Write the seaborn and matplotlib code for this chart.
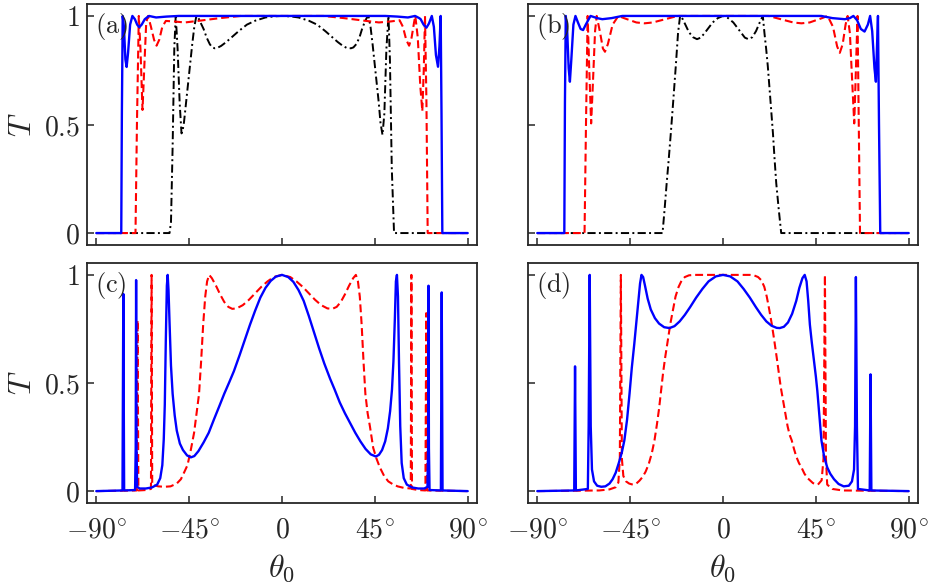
import matplotlib
matplotlib.use("Agg")
import matplotlib.pyplot as plt
import seaborn as sns
import pandas as pd

# ---- panel (a) ----
a_blue_x = [-90, -77.9, -77.6, -77.2, -76.6, -75.9, -75.3, -74.6, -73.6, -72.5, -71.3, -70.2, -69.2, -68.0, -66.5,
            -64.5, -61, -56, -50, 0, 50, 56, 61, 64.5, 66.5, 67.2, 68.6, 70.0, 71.2, 72.6, 73.6, 74.6, 75.6, 76.3,
            76.9, 77.3, 77.7, 90]
a_blue_y = [0, 0, 0.55, 1.0, 0.95, 0.80, 0.765, 0.83, 0.96, 1.0, 0.985, 0.96, 0.948, 0.96, 0.985,
            1.0, 0.993, 0.997, 1.0, 1.0, 1.0, 0.997, 0.993, 1.0, 0.99, 0.985, 0.96, 0.946, 0.965, 1.0, 0.95, 0.82,
            0.766, 0.86, 1.0, 0.55, 0, 0]

a_red_x = [-90, -71.0, -70.3, -69.4, -68.6, -67.6, -66.8, -65.8, -64.9, -63.5, -62, -60.8, -59.5, -58, -56.3, -53,
           -47, -40, -30, -20, 0, 20, 30, 40, 47, 53, 57, 58.6, 60.2, 61.6, 62.8, 64.0, 64.6, 65.8, 67.0, 68.0,
           68.7, 69.3, 70.0, 70.6, 90]
a_red_y = [0, 0, 0.5, 1.0, 0.85, 0.567, 0.75, 0.97, 1.0, 0.95, 0.89, 0.863, 0.89, 0.95, 0.977, 0.975,
           0.97, 0.978, 0.99, 1.0, 1.0, 1.0, 0.99, 0.978, 0.97, 0.975, 0.98, 0.95, 0.89, 0.863, 0.9, 0.97,
           1.0, 0.9, 0.68, 0.562, 0.75, 1.0, 0.6, 0, 0]

a_black_x = [-90, -54.5, -53.8, -53, -52.2, -51.5, -50.6, -49.6, -48.7, -48.2, -47.5, -46.5, -45.5, -44.5, -43.5,
             -42.5, -41.5, -40.5, -39.5, -38, -36.5, -35, -33.8, -32.6, -31.3, -29.5, -27, -24, -21, -17, -13, -8,
             -4, 0, 4, 8, 13, 17, 21, 24, 27, 29.5, 31.3, 33.4, 34.6, 36, 37.5, 38.8, 40, 41, 41.9, 42.9, 43.9,
             44.9, 45.9, 46.9, 47.7, 48.7, 49.6, 50.6, 51.6, 52.3, 53.2, 54.3, 90]
a_black_y = [0, 0, 0.05, 0.4, 0.85, 1.0, 0.85, 0.6, 0.459, 0.47, 0.51, 0.6, 0.69, 0.78, 0.87,
             0.95, 1.0, 0.99, 0.97, 0.94, 0.9, 0.87, 0.855, 0.851, 0.853, 0.862, 0.88, 0.905, 0.93, 0.96, 0.978,
             0.993, 0.998, 1.0, 0.998, 0.993, 0.978, 0.96, 0.93, 0.905, 0.88, 0.862, 0.853, 0.851, 0.855, 0.87,
             0.9, 0.94, 0.97, 0.99, 1.0, 0.95, 0.87, 0.78, 0.69, 0.6, 0.51, 0.452, 0.55, 0.85, 1.0, 0.8, 0.3, 0,
             0]

# ---- panel (b) ----
b_blue_x = [-90, -76.9, -76.6, -76.2, -75.5, -74.8, -74.2, -73.5, -72.5, -71.5, -70.3, -69.0, -67.8, -66.5, -64.2,
            -61, -58.5, -54, -48.8, 0, 47.6, 53, 59, 61.5, 63.2, 65, 66.8, 68.6, 70.2, 71.3, 72.3, 73.4, 74.1,
            74.6, 75.1, 75.6, 76.2, 90]
b_blue_y = [0, 0, 0.6, 1.0, 0.93, 0.76, 0.697, 0.8, 0.96, 1.0, 0.97, 0.94, 0.935, 0.96, 1.0,
            0.99, 0.985, 0.99, 1.0, 1.0, 1.0, 0.99, 0.985, 0.99, 1.0, 0.98, 0.94, 0.928, 0.96, 1.0, 0.93, 0.76,
            0.697, 0.85, 1.0, 0.5, 0, 0]

b_red_x = [-90, -67.1, -66.4, -65.6, -64.8, -63.9, -63.0, -62, -61.2, -59.5, -58.2, -57.2, -55.8, -53.5, -50.7, -48,
           -45, -42, -38, -34, -30, -26, -22, 22, 26, 30, 34, 38, 42, 45, 48, 50.7, 53.3, 55.3, 56.6, 58, 59.4,
           60.4, 61.5, 62.6, 63.6, 64.4, 65.2, 65.8, 66.4, 90]
b_red_y = [0, 0, 0.5, 1.0, 0.75, 0.505, 0.7, 0.93, 1.0, 0.92, 0.85, 0.835, 0.87, 0.96, 1.0, 0.99,
           0.98, 0.97, 0.966, 0.97, 0.98, 0.99, 1.0, 1.0, 0.99, 0.98, 0.97, 0.966, 0.97, 0.98, 0.99, 1.0, 0.95,
           0.86, 0.83, 0.87, 0.96, 1.0, 0.92, 0.7, 0.505, 0.75, 1.0, 0.5, 0, 0]

b_black_x = [-90, -29.3, -28.3, -27.3, -26.3, -25.3, -24.1, -22.9, -21.8, -20.8, -19.5, -18, -16.5, -14.5, -12.6,
             -10.8, -9, -7, -5, -2.5, 0, 2.5, 5, 7, 9, 10.6, 12.3, 14.2, 16, 17.8, 19.3, 20.1, 20.9, 21.7, 23,
             24.2, 25, 25.8, 27, 28.2, 90]
b_black_y = [0, 0, 0.11, 0.229, 0.34, 0.459, 0.61, 0.766, 0.92, 1.0, 0.985, 0.955, 0.925, 0.902, 0.893,
             0.9, 0.92, 0.945, 0.97, 0.99, 1.0, 0.99, 0.97, 0.945, 0.92, 0.9, 0.893, 0.902, 0.93, 0.97, 1.0, 0.92,
             0.85, 0.77, 0.61, 0.46, 0.34, 0.23, 0.11, 0, 0]

# ---- panel (c) ----
c_blue_x = [-90, -77.3, -76.9, -76.5, -71.2, -70.9, -70.7, -70.5, -70.2, -69, -66, -63, -60.5, -59, -58, -57.3,
            -56.8, -56.3, -55.8, -55.4, -55.0, -54.5, -53.8, -53, -52, -51, -49.5, -48, -46, -44.2, -42.5, -40.5,
            -38, -35.5, -33, -30.5, -28, -25.5, -23.3, -20.5, -18, -15.5, -13, -10.5, -8, -5.5, -3, 0,
            3, 5.5, 8, 10.5, 13, 15.5, 18, 20.5, 23.3, 25.5, 28, 30.5, 33, 35.5, 38, 40.5, 43, 45.5, 47,
            48.5, 50, 51.3, 52.4, 53.3, 54, 54.7, 55.2, 55.7, 56.2, 56.7, 57.3, 58, 59, 60.5, 63, 66, 69, 70.5,
            70.8, 71.0, 71.2, 71.5, 77.0, 77.4, 77.8, 90]
c_blue_y = [0, 0.003, 0.912, 0.003, 0.005, 0.2, 0.976, 0.2, 0.02, 0.012, 0.012, 0.017, 0.03, 0.06, 0.12, 0.24,
            0.4, 0.7, 0.95, 1.0, 0.93, 0.78, 0.58, 0.45, 0.35, 0.28, 0.22, 0.19, 0.165, 0.156, 0.162, 0.185,
            0.225, 0.27, 0.331, 0.39, 0.45, 0.505, 0.555, 0.63, 0.70, 0.77, 0.835, 0.895, 0.94, 0.972, 0.992, 1.0,
            0.99, 0.968, 0.93, 0.88, 0.81, 0.735, 0.66, 0.59, 0.52, 0.47, 0.41, 0.36, 0.315, 0.27, 0.23, 0.195,
            0.17, 0.16, 0.168, 0.19, 0.23, 0.29, 0.37, 0.47, 0.6, 0.8, 0.97, 1.0, 0.9, 0.6, 0.3, 0.13, 0.06, 0.03,
            0.017, 0.012, 0.012, 0.02, 0.2, 0.95, 0.2, 0.005, 0.003, 0.919, 0.003, 0]

c_red_x = [-90, -70.4, -70.0, -69.6, -66, -63.5, -63.2, -62.9, -60, -57, -54, -51, -49, -47.5, -45.8, -44.2, -42.6,
           -41.4, -40.2, -39.2, -38.2, -37.2, -36.3, -35.3, -34, -32, -30, -28, -26, -24.1, -22, -19, -16, -13,
           -10, -7, -4, 0, 4, 7, 10, 13, 16, 19, 22, 24.4, 26.5, 28.5, 30.5, 32.5, 34.5, 35.8, 36.8, 37.7, 38.6,
           39.5, 40.4, 41.5, 42.6, 44.2, 45.8, 47.4, 49.5, 51.5, 53.5, 56, 59, 62.4, 62.7, 63.0, 66, 69.5, 69.9,
           70.3, 90]
c_red_y = [0, 0.003, 0.79, 0.003, 0.005, 0.01, 1.0, 0.03, 0.022, 0.02, 0.022, 0.035, 0.055, 0.085, 0.12, 0.19,
           0.27, 0.36, 0.45, 0.6, 0.77, 0.9, 0.97, 1.0, 0.985, 0.95, 0.91, 0.875, 0.852, 0.843, 0.845, 0.86,
           0.885, 0.915, 0.945, 0.97, 0.99, 1.0, 0.99, 0.97, 0.945, 0.915, 0.885, 0.86, 0.845, 0.843, 0.852,
           0.875, 0.91, 0.95, 0.985, 1.0, 0.97, 0.9, 0.77, 0.6, 0.45, 0.36, 0.3, 0.2, 0.15, 0.11, 0.07, 0.045,
           0.033, 0.022, 0.015, 0.012, 1.0, 0.01, 0.005, 0.003, 0.823, 0.003, 0]

# ---- panel (d) ----
d_blue_x = [-90, -72.1, -71.7, -71.3, -65.5, -65.1, -64.6, -64.1, -63.5, -62.5, -61, -59, -57, -55, -53.5, -52,
            -50.5, -49, -47.8, -46.5, -45.3, -44.2, -43, -42, -41, -40.2, -39.5, -38.7, -37.8, -36.5, -35, -33,
            -31, -28.5, -25.9, -23.5, -21, -18.5, -16, -13, -10, -7, -3.5, 0, 3.5, 7, 10, 13, 16, 18.5, 21, 23.5,
            26, 27.5, 29.5, 31.5, 33.5, 35.5, 37, 38.5, 39.6, 40.5, 41.3, 42.1, 43, 44, 45, 45.7, 46.7, 47.7, 49,
            50.5, 52, 53.8, 56, 58.5, 61, 62.5, 63.5, 64.0, 64.4, 64.9, 65.4, 71.1, 71.5, 71.9, 90]
d_blue_y = [0, 0.003, 0.577, 0.003, 0.01, 0.3, 1.0, 0.3, 0.1, 0.045, 0.025, 0.02, 0.022, 0.035, 0.055, 0.085,
            0.13, 0.18, 0.235, 0.33, 0.45, 0.57, 0.68, 0.78, 0.88, 0.96, 1.0, 0.99, 0.95, 0.89, 0.84, 0.8,
            0.775, 0.758, 0.754, 0.763, 0.785, 0.815, 0.85, 0.895, 0.935, 0.97, 0.993, 1.0, 0.993, 0.97, 0.935,
            0.895, 0.85, 0.815, 0.785, 0.765, 0.755, 0.754, 0.76, 0.78, 0.82, 0.88, 0.94, 0.985, 1.0, 0.97, 0.88,
            0.77, 0.69, 0.61, 0.53, 0.465, 0.35, 0.235, 0.16, 0.11, 0.08, 0.055, 0.033, 0.022, 0.025, 0.045, 0.1,
            0.3, 0.99, 0.3, 0.01, 0.003, 0.54, 0.003, 0]

d_red_x = [-90, -60, -55, -52, -50.7, -50, -49.5, -49.0, -48.3, -47, -45.5, -43.7, -42, -40.5, -39, -37.5, -36,
           -34.5, -33.2, -32, -31, -30, -29, -28, -26.7, -25.5, -24.2, -23, -21.5, -20, -18.5, -16.5, -14, 13,
           15, 17, 18.6, 20, 21.2, 22.4, 23.6, 24.8, 26, 27, 28, 29.1, 30.2, 31.3, 32.3, 33.3, 34.4, 35.5, 36.8,
           38, 39.5, 41, 43.6, 46, 47.8, 48.7, 49.4, 49.9, 50.5, 53, 58, 90]
d_red_y = [0, 0.003, 0.008, 0.018, 0.04, 0.15, 1.0, 0.15, 0.07, 0.045, 0.035, 0.03, 0.035, 0.048, 0.065, 0.09,
           0.125, 0.175, 0.235, 0.31, 0.38, 0.465, 0.55, 0.62, 0.7, 0.775, 0.84, 0.9, 0.945, 0.975, 0.99, 0.998,
           1.0, 1.0, 0.998, 0.99, 0.975, 0.945, 0.9, 0.84, 0.775, 0.7, 0.62, 0.55, 0.48, 0.42, 0.36, 0.3, 0.26,
           0.235, 0.195, 0.16, 0.13, 0.11, 0.08, 0.06, 0.037, 0.03, 0.05, 0.15, 1.0, 0.15, 0.03, 0.01, 0.003, 0]

panels = {
    "(a)": [(a_black_x, a_black_y, "black"), (a_red_x, a_red_y, "red"), (a_blue_x, a_blue_y, "blue")],
    "(b)": [(b_black_x, b_black_y, "black"), (b_red_x, b_red_y, "red"), (b_blue_x, b_blue_y, "blue")],
    "(c)": [(c_red_x, c_red_y, "red"), (c_blue_x, c_blue_y, "blue")],
    "(d)": [(d_red_x, d_red_y, "red"), (d_blue_x, d_blue_y, "blue")],
}

x_ticks = [-90, -45, 0, 45, 90]
x_labels = [r"$-90^{\circ}$", r"$-45^{\circ}$", r"$0$", r"$45^{\circ}$", r"$90^{\circ}$"]
y_ticks = [0, 0.5, 1]
y_labels = [r"$0$", r"$0.5$", r"$1$"]

sns.set_theme(style="ticks")
plt.rcParams["font.family"] = ["DejaVu Serif"]
plt.rcParams["mathtext.fontset"] = "cm"

fig = plt.figure(figsize=(9.3, 5.84), dpi=100)
positions = {
    "(a)": [87 / 930, 1 - 245 / 584, 390 / 930, 241 / 584],
    "(b)": [528 / 930, 1 - 245 / 584, 390 / 930, 241 / 584],
    "(c)": [87 / 930, 1 - 503 / 584, 390 / 930, 240 / 584],
    "(d)": [528 / 930, 1 - 503 / 584, 390 / 930, 240 / 584],
}

# colour, dash pattern (in line widths), line width
styles = {"blue": ("#0000ff", None, 1.7),
          "red": ("#ff0000", (3.8, 1.9), 1.5),
          "black": ("#000000", (4.2, 1.7, 1.0, 1.7), 1.4)}

for name, curves in panels.items():
    ax = fig.add_axes(positions[name])
    for xs, ys, kind in curves:
        color, dash, lw = styles[kind]
        df = pd.DataFrame({"theta": xs, "T": ys})
        sns.lineplot(data=df, x="theta", y="T", estimator=None, sort=False,
                     color=color, lw=lw, ax=ax)
        if dash is not None:
            ax.lines[-1].set_dashes(dash)
    ax.set_xlim(-94.5, 94.5)
    ax.set_ylim(-0.055, 1.055)
    ax.set_xticks(x_ticks)
    ax.set_yticks(y_ticks)
    ax.tick_params(direction="in", length=5, width=1.1, labelsize=20)
    ax.tick_params(axis="x", pad=10)
    ax.tick_params(axis="y", pad=5)
    for s in ax.spines.values():
        s.set_linewidth(1.3)
    ax.text(0.02, 0.905, r"$\mathrm{" + name + "}$", transform=ax.transAxes,
            fontsize=19, va="center", ha="left")
    if name in ("(a)", "(b)"):
        ax.set_xticklabels([])
        ax.set_xlabel("")
    else:
        ax.set_xticklabels(x_labels)
        ax.set_xlabel(r"$\theta_0$", fontsize=23)
        ax.xaxis.set_label_coords(0.5, -0.205)
    if name in ("(a)", "(c)"):
        ax.set_yticklabels(y_labels)
        ax.set_ylabel(r"$T$", fontsize=23, va="center")
        ax.yaxis.set_label_coords(-0.165, 0.5)
    else:
        ax.set_yticklabels([])
        ax.set_ylabel("")

fig.savefig("out.png", dpi=100)
